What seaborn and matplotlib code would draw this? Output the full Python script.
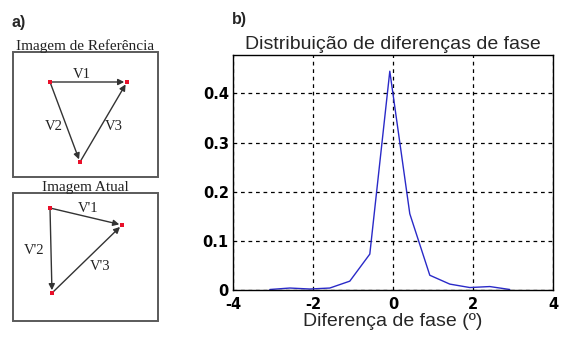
import matplotlib
matplotlib.use("Agg")
import matplotlib.pyplot as plt
import seaborn as sns
from matplotlib.patches import Rectangle

# phase difference distribution
fase = [-3.08, -2.58, -2.08, -1.58, -1.08, -0.58, -0.08, 0.42, 0.92, 1.42, 1.92, 2.42, 2.92]
freq = [0.001, 0.004, 0.002, 0.004, 0.018, 0.073, 0.445, 0.155, 0.030, 0.012, 0.005, 0.007, 0.001]
x_ticks = [-4, -2, 0, 2, 4]
y_ticks = [0, 0.1, 0.2, 0.3, 0.4]
y_tick_labels = ["0", "0.1", "0.2", "0.3", "0.4"]

# diagram: node positions (pixel units of the left panel)
ref_nodes = {"A": (50, 82), "B": (127, 82), "C": (80, 162)}
ref_vectors = [("A", "B", "V1", (82, 74)), ("A", "C", "V2", (54, 127)), ("C", "B", "V3", (114, 127))]
cur_nodes = {"A": (50, 208), "B": (122, 225), "C": (52, 293)}
cur_vectors = [("A", "B", "V'1", (88, 208)), ("A", "C", "V'2", (34, 250)), ("C", "B", "V'3", (100, 267))]
boxes = [(13, 52, 145, 125, "Imagem de Referência"), (13, 193, 145, 128, "Imagem Atual")]

sns.set_theme(style="white")
plt.rcParams["font.family"] = ["Liberation Sans", "DejaVu Sans"]
plt.rcParams["axes.unicode_minus"] = False

fig = plt.figure(figsize=(5.64, 3.37), dpi=100)

# ---- a) diagram
ax0 = fig.add_axes([0, 0, 0.4, 1])
ax0.set_xlim(0, 0.4 * 564)
ax0.set_ylim(337, 0)
ax0.axis("off")
ax0.text(12, 27, "a)", fontsize=11.5, fontweight="bold", ha="left", va="baseline")

for (bx, by, bw, bh, label) in boxes:
    ax0.add_patch(Rectangle((bx, by), bw, bh, fill=False, edgecolor="#5a5a5a", lw=1.4))
    ax0.text(bx + bw / 2, by - 2, label, fontsize=11, family="Liberation Serif",
             ha="center", va="baseline", color="#222222")

for nodes, vectors in [(ref_nodes, ref_vectors), (cur_nodes, cur_vectors)]:
    for (a, b, name, pos) in vectors:
        ax0.annotate("", xy=nodes[b], xytext=nodes[a],
                     arrowprops=dict(arrowstyle="-|>", color="#333333", lw=1.0,
                                     shrinkA=0, shrinkB=2, mutation_scale=9))
        ax0.text(pos[0], pos[1], name, fontsize=10.5, family="Liberation Serif",
                 ha="center", va="center", color="#222222")
    xs = [p[0] for p in nodes.values()]
    ys = [p[1] for p in nodes.values()]
    ax0.scatter(xs, ys, marker="s", s=9, color="#e8102a", zorder=3, linewidths=0)

# ---- b) distribution
ax = fig.add_axes([233 / 564, 1 - 290 / 337, 320 / 564, 235 / 337])
sns.lineplot(x=fase, y=freq, ax=ax, color="#2a2ac8", lw=1.0)
ax.set_xlim(-4, 4)
ax.set_ylim(0, 0.478)
ax.set_xticks(x_ticks)
ax.set_yticks(y_ticks)
ax.set_yticklabels(y_tick_labels)
ax.grid(True, color="black", linestyle=(0, (3, 3)), lw=0.9)
for s in ax.spines.values():
    s.set_color("black")
    s.set_linewidth(1.0)
ax.tick_params(direction="in", length=3, width=0.8, colors="black")
ax.tick_params(axis="x", pad=5)
ax.tick_params(axis="y", pad=3)
for t in ax.get_xticklabels() + ax.get_yticklabels():
    t.set_fontweight("bold")
    t.set_family("DejaVu Sans")
    t.set_fontsize(10.5)
ax.set_title("Distribuição de diferenças de fase", fontsize=14, pad=4)
ax.set_xlabel("Diferença de fase (º)", fontsize=14, labelpad=1)
ax.set_ylabel("")
fig.text(232 / 564, 1 - 24 / 337, "b)", fontsize=11.5, fontweight="bold", ha="left", va="baseline")

fig.savefig("out.png", dpi=100)
